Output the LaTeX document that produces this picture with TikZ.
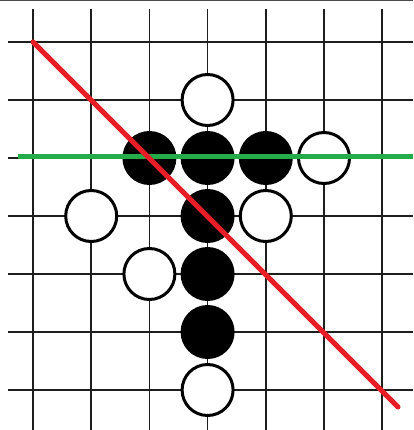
\documentclass[tikz,border=0pt]{standalone}
\usetikzlibrary{positioning,calc}
\definecolor{cutred}{RGB}{232,30,38}
\definecolor{rowgreen}{RGB}{36,172,74}
\definecolor{gridink}{RGB}{30,30,30}
\tikzset{
  gridln/.style={draw=gridink,line width=1.7pt},
  stone/.style={circle,draw=black,line width=3pt,minimum size=51pt,inner sep=0pt},
  bstone/.style={stone,fill=black},
  wstone/.style={stone,fill=white},
  hitline/.style={line width=5pt},
}

\begin{document}
\begin{tikzpicture}[x=1pt,y=-1pt]
\useasboundingbox (0,0) rectangle (413,430);
\draw[draw=gridink!80,line width=1.4pt] (0,0.5) -- (413,0.5);
% board points
\foreach \i in {0,...,6}
  \foreach \j in {0,...,6}
    \coordinate (p-\i-\j) at ({33+58.2*\i},{42+58*\j});
\foreach \i in {0,...,6}
  \draw[gridln] ({33+58.2*\i},9) -- ({33+58.2*\i},430);
\foreach \j in {0,...,6}
  \draw[gridln] (8,{42+58*\j}) -- (413,{42+58*\j});
% stones
\node[wstone] (w1) at (p-3-1) {};
\node[bstone] (b1) at (p-2-2) {};
\node[bstone] (b2) at (p-3-2) {};
\node[bstone] (b3) at (p-4-2) {};
\node[wstone] (w2) at (p-5-2) {};
\node[wstone] (w3) at (p-1-3) {};
\node[bstone] (b4) at (p-3-3) {};
\node[wstone] (w4) at (p-4-3) {};
\node[wstone] (w5) at (p-2-4) {};
\node[bstone] (b5) at (p-3-4) {};
\node[bstone] (b6) at (p-3-5) {};
\node[wstone] (w6) at (p-3-6) {};
% lines through the stones
\coordinate (greenA) at (18,156.5);
\coordinate (greenB) at (413,156.5);
\coordinate (redA) at (p-0-0);
\coordinate (redB) at (398,407);
\draw[hitline,rowgreen] (greenA) -- (greenB);
\draw[hitline,cutred,line cap=round] (redA) -- (redB);
\end{tikzpicture}
\end{document}
